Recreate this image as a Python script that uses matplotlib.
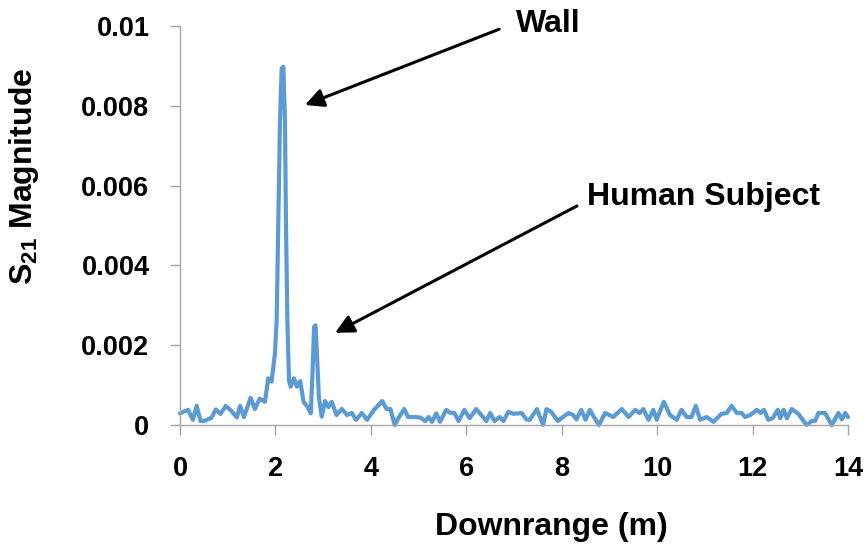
import matplotlib
matplotlib.use("Agg")
import matplotlib.pyplot as plt

# downrange (m) and |S21|
downrange = [
    0.0, 0.17, 0.27, 0.35, 0.43, 0.5, 0.66, 0.75, 0.85, 0.96,
    1.08, 1.19, 1.26, 1.34, 1.48, 1.57, 1.67, 1.78, 1.85, 1.92,
    1.99, 2.026, 2.061, 2.096, 2.131, 2.166, 2.2, 2.22, 2.25, 2.285,
    2.32, 2.39, 2.45, 2.52, 2.59, 2.67, 2.74, 2.78, 2.81, 2.84,
    2.87, 2.91, 2.97, 3.04, 3.11, 3.18, 3.28, 3.39, 3.5, 3.6,
    3.69, 3.81, 3.92, 4.06, 4.24, 4.33, 4.41, 4.5, 4.59, 4.7,
    4.78, 4.91, 5.03, 5.14, 5.21, 5.28, 5.37, 5.45, 5.58, 5.66,
    5.75, 5.84, 5.96, 6.07, 6.21, 6.33, 6.42, 6.5, 6.59, 6.7,
    6.78, 6.88, 6.99, 7.16, 7.26, 7.33, 7.48, 7.61, 7.68, 7.78,
    7.92, 8.14, 8.24, 8.31, 8.41, 8.5, 8.59, 8.69, 8.78, 8.91,
    9.08, 9.26, 9.4, 9.54, 9.63, 9.71, 9.82, 9.92, 9.99, 10.14,
    10.27, 10.41, 10.51, 10.62, 10.72, 10.81, 10.9, 11.04, 11.18, 11.35,
    11.46, 11.56, 11.67, 11.77, 11.84, 11.95, 12.09, 12.17, 12.24, 12.33,
    12.42, 12.53, 12.58, 12.65, 12.72, 12.82, 12.96, 13.13, 13.24, 13.31,
    13.38, 13.52, 13.66, 13.8, 13.87, 13.94, 14.0,
]
s21 = [
    0.00029, 0.00038, 0.00013, 0.00048, 0.0001, 0.0001, 0.00018, 0.00039, 0.00028, 0.00048,
    0.00035, 0.00019, 0.00048, 0.0002, 0.00068, 0.0004, 0.00066, 0.00058, 0.00117, 0.00109,
    0.0018, 0.00263, 0.00514, 0.00764, 0.00894, 0.00898, 0.00764, 0.00514, 0.00263, 0.0011,
    0.00096, 0.00117, 0.00096, 0.0011, 0.00058, 0.00046, 0.00029, 0.00138, 0.00246, 0.0025,
    0.0018, 0.00071, 0.00021, 0.0006, 0.00045, 0.00058, 0.00025, 0.0004, 0.00025, 0.0003,
    0.00013, 0.0003, 0.00013, 0.00037, 0.0006, 0.0004, 0.0004, 0.0, 0.0002, 0.0004,
    0.0002, 0.0002, 0.00019, 0.0001, 0.0002, 0.00008, 0.00029, 0.00008, 0.00038, 0.00031,
    0.0003, 0.0001, 0.00038, 0.00017, 0.0004, 0.00023, 0.0001, 0.0003, 0.0001, 0.0002,
    0.0001, 0.00033, 0.00028, 0.0003, 0.00014, 0.00013, 0.0004, 0.0, 0.0004, 0.00033,
    0.0001, 0.0003, 0.00025, 0.00014, 0.00038, 0.00013, 0.00038, 0.00017, 0.0, 0.0003,
    0.0002, 0.0004, 0.0002, 0.00038, 0.0003, 0.0004, 0.00013, 0.00038, 0.00013, 0.00058,
    0.00025, 0.00013, 0.00038, 0.0002, 0.0002, 0.00048, 0.00013, 0.0002, 0.00008, 0.00028,
    0.0003, 0.00048, 0.0003, 0.0003, 0.0002, 0.00025, 0.00038, 0.0003, 0.00038, 0.00013,
    0.00017, 0.00038, 0.00017, 0.00038, 0.00017, 0.0004, 0.00028, 0.0, 0.0001, 0.0001,
    0.0003, 0.0003, 0.0, 0.0003, 0.00014, 0.0003, 0.0002,
]

x_ticks = [0, 2, 4, 6, 8, 10, 12, 14]
y_ticks = [0, 0.002, 0.004, 0.006, 0.008, 0.01]
y_tick_labels = ["0", "0.002", "0.004", "0.006", "0.008", "0.01"]

plt.rcParams["font.family"] = ["Liberation Sans", "DejaVu Sans"]
plt.rcParams["font.weight"] = "bold"
plt.rcParams["mathtext.fontset"] = "custom"
plt.rcParams["mathtext.rm"] = "Liberation Sans:bold"
plt.rcParams["mathtext.bf"] = "Liberation Sans:bold"

fig = plt.figure(figsize=(8.68, 5.44), dpi=100)
ax = fig.add_axes([180 / 868, 119 / 544, 668 / 868, 399 / 544])

ax.plot(downrange, s21, color="#5B9BD5", lw=3, solid_joinstyle="round",
        solid_capstyle="round", clip_on=False)

ax.set_xlim(0, 14)
ax.set_ylim(0, 0.01)
ax.set_xticks(x_ticks)
ax.set_yticks(y_ticks)
ax.set_yticklabels(y_tick_labels)
ax.tick_params(axis="both", direction="out", length=7, width=1, color="#A6A6A6",
               labelsize=19.5, pad=15)

for side in ["top", "right"]:
    ax.spines[side].set_visible(False)
for side in ["left", "bottom"]:
    ax.spines[side].set_color("#A6A6A6")
    ax.spines[side].set_linewidth(1)

fig.text(551 / 868, 1 - 527 / 544, "Downrange (m)", fontsize=23, fontweight="bold",
         ha="center", va="center")
fig.text(24 / 868, 1 - 176 / 544, r"S$_{\mathbf{21}}$ Magnitude", fontsize=23,
         fontweight="bold", rotation=90, ha="center", va="center")

arrow = dict(arrowstyle="-|>", color="black", lw=2.2, mutation_scale=28,
             shrinkA=0, shrinkB=0)
ax.annotate("", xy=(2.62, 0.00802), xytext=(6.69, 0.00992), arrowprops=arrow,
            annotation_clip=False)
ax.annotate("", xy=(3.25, 0.00231), xytext=(8.32, 0.00549), arrowprops=arrow,
            annotation_clip=False)
ax.text(7.71, 0.01005, "Wall", fontsize=23, fontweight="bold",
        ha="center", va="center", clip_on=False)
ax.text(8.53, 0.00572, "Human Subject", fontsize=23, fontweight="bold",
        ha="left", va="center", clip_on=False)

fig.savefig("out.png", dpi=100)
